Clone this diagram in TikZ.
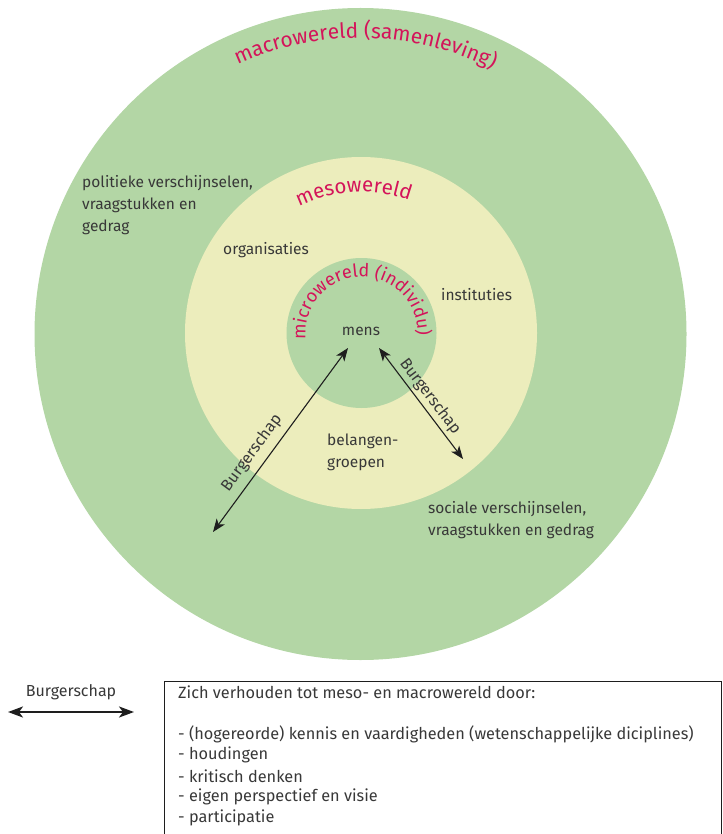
\documentclass[tikz,border=0pt]{standalone}
\usepackage{fontspec}
\setmainfont{Fira Sans}
\usetikzlibrary{decorations.text,arrows.meta}
\definecolor{macrogreen}{HTML}{B3D6A5}
\definecolor{mesoyellow}{HTML}{ECEDBC}
\definecolor{worldred}{HTML}{D4145A}
\definecolor{inktext}{HTML}{383838}
\definecolor{inkarrow}{HTML}{1E1E1E}
\tikzset{
  world/.style={circle, inner sep=0pt, draw=none},
  lbl/.style={text=inktext, font=\fontsize{15.5}{22}\selectfont, align=left, inner sep=0pt},
  boxtxt/.style={text=inktext, font=\fontsize{16.3}{21}\selectfont, anchor=west, inner sep=0pt},
  biarrow/.style={{Stealth[length=13pt,width=10pt,inset=3.5pt]}-{Stealth[length=13pt,width=10pt,inset=3.5pt]}, line width=1.1pt, draw=inkarrow},
  arrowlbl/.style={text=inktext, font=\fontsize{16}{18}\selectfont, sloped, inner sep=2pt}
}
\begin{document}
\begin{tikzpicture}[x=1pt,y=-1pt]
\useasboundingbox (0,0) rectangle (722,834);
% worlds
\node[world, fill=macrogreen, minimum size=652pt] (macro) at (360.5,334) {};
\node[world, fill=mesoyellow, minimum size=352pt] (meso) at (361,333) {};
\node[world, fill=macrogreen, minimum size=150pt] (micro) at (361.5,333) {};
% curved titles
\path[decorate, decoration={text along path, text align=center,
  text={|\fontsize{21}{21}\selectfont\color{worldred}|macrowereld (samenleving)}}]
  (360.5,334) ++(195:296) arc[start angle=195, end angle=347, radius=296];
\path[decorate, decoration={text along path, text align=center,
  text={|\fontsize{20.5}{21}\selectfont\color{worldred}|mesowereld}}]
  (361,333) ++(207:141) arc[start angle=207, end angle=327, radius=141];
\path[decorate, decoration={text along path, text align=center,
  text={|\fontsize{18}{18}\selectfont\color{worldred}|microwereld (individu)}}]
  (361.5,333) ++(160:56) arc[start angle=160, end angle=376, radius=56];
% labels
\node[lbl, anchor=west] (politiek) at (82,205) {politieke verschijnselen,\\vraagstukken en\\gedrag};
\node[lbl, anchor=west] (organisaties) at (223,250) {organisaties};
\node[lbl, anchor=west] (instituties) at (441,295) {instituties};
\node[lbl] (mens) at (361,331) {mens};
\node[lbl, anchor=west] (belangen) at (327,452) {belangen-\\groepen};
\node[lbl, anchor=west] (sociaal) at (428,520) {sociale verschijnselen,\\vraagstukken en gedrag};
% Burgerschap arrows
\coordinate (a1) at (213,532);
\coordinate (a1m) at (348,348);
\coordinate (a2m) at (379,348);
\coordinate (a2) at (463,459);
\draw[biarrow] (a1) -- node[arrowlbl, pos=0.38, above=5pt] (b1) {Burgerschap} (a1m);
\draw[biarrow] (a2m) -- node[arrowlbl, pos=0.5, above=1pt] (b2) {Burgerschap} (a2);
% legend
\node[text=inktext, font=\fontsize{16}{18}\selectfont, inner sep=0pt] (leglbl) at (71,692) {Burgerschap};
\coordinate (l1) at (8,712);
\coordinate (l2) at (134,712);
\draw[{Stealth[length=15pt,width=11pt,inset=4pt]}-{Stealth[length=15pt,width=11pt,inset=4pt]}, line width=2.2pt, draw=inkarrow] (l1) -- (l2);
% box
\coordinate (bx1) at (164,834);
\coordinate (bx2) at (164,681);
\coordinate (bx3) at (721,681);
\coordinate (bx4) at (721,834);
\draw[line width=0.8pt, draw=inkarrow] (bx1) -- (bx2) -- (bx3) -- (bx4);
\node[boxtxt] (t0) at (178,692) {Zich verhouden tot meso- en macrowereld door:};
\node[boxtxt] (t1) at (178,734) {- (hogereorde) kennis en vaardigheden (wetenschappelijke diciplines)};
\node[boxtxt] (t2) at (178,755) {- houdingen};
\node[boxtxt] (t3) at (178,776) {- kritisch denken};
\node[boxtxt] (t4) at (178,797) {- eigen perspectief en visie};
\node[boxtxt] (t5) at (178,818) {- participatie};
\end{tikzpicture}
\end{document}
